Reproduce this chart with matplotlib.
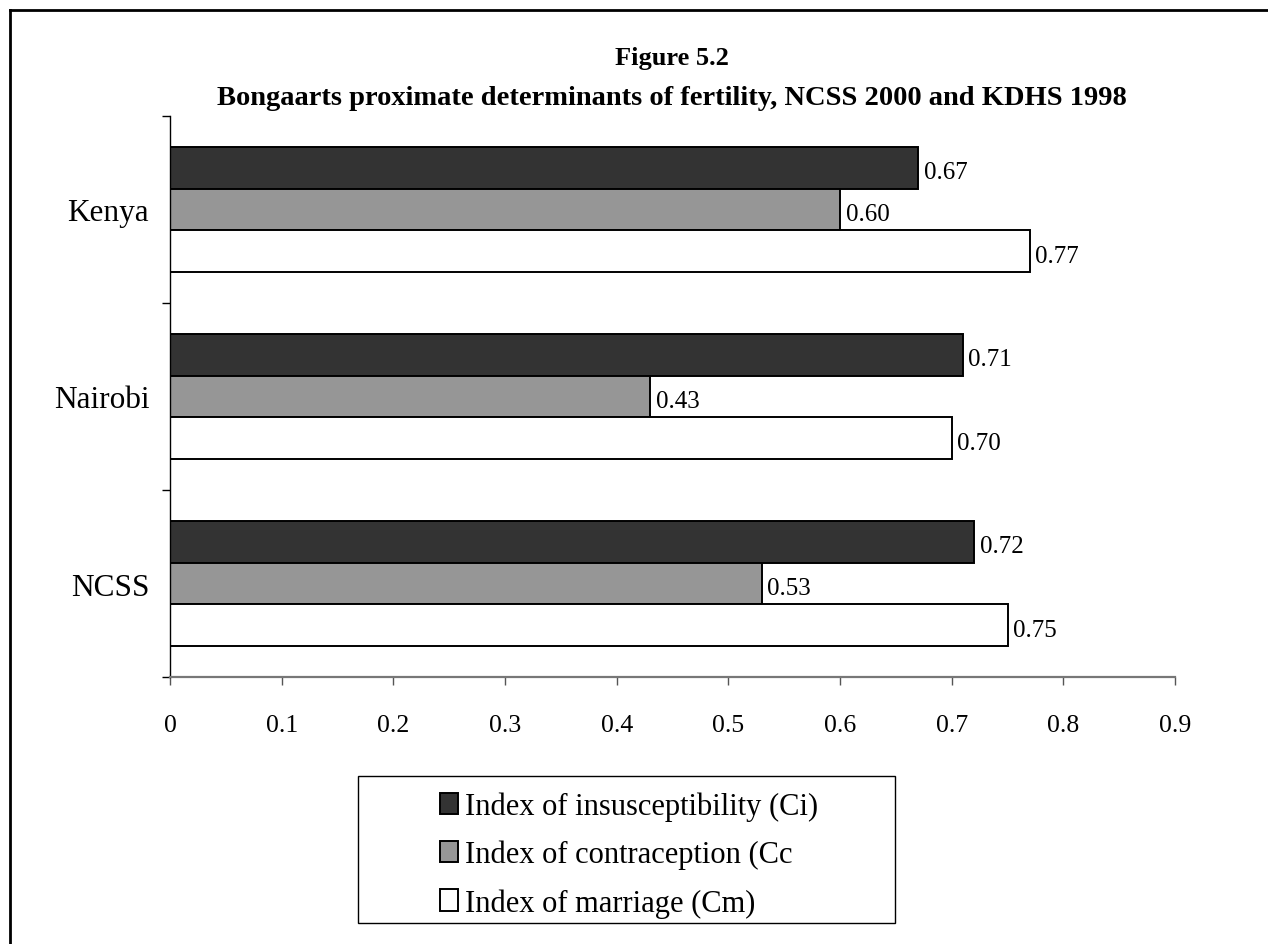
import matplotlib
matplotlib.use("Agg")
import matplotlib.pyplot as plt
from matplotlib.patches import Rectangle
from matplotlib.lines import Line2D
import numpy as np

plt.rcParams['font.family'] = ['Liberation Serif', 'DejaVu Serif']

regions = ["Kenya", "Nairobi", "NCSS"]
series_names = ["Index of insusceptibility (Ci)",
                "Index of contraception (Cc",
                "Index of marriage (Cm)"]
ci_values = [0.67, 0.71, 0.72]
cc_values = [0.60, 0.43, 0.53]
cm_values = [0.77, 0.70, 0.75]
x_ticks = [0, 0.1, 0.2, 0.3, 0.4, 0.5, 0.6, 0.7, 0.8, 0.9]
x_tick_labels = ["0", "0.1", "0.2", "0.3", "0.4", "0.5", "0.6", "0.7", "0.8", "0.9"]
title_lines = ["Figure 5.2",
               "Bongaarts proximate determinants of fertility, NCSS 2000 and KDHS 1998"]

colors = ["#333333", "#969696", "#ffffff"]

fig = plt.figure(figsize=(12.68, 9.45), dpi=100)
W, H = 1268, 945
ax = fig.add_axes([170 / W, 1 - 678 / H, (1175 - 170) / W, (678 - 117) / H])

n = len(regions)
centers = np.arange(n)[::-1] + 0.5
bar_h = 0.224
series = [ci_values, cc_values, cm_values]
for k, (vals, col) in enumerate(zip(series, colors)):
    y = centers + (1 - k) * bar_h
    ax.barh(y, vals, height=bar_h, color=col, edgecolor="black", linewidth=1.4)
    for yy, v in zip(y, vals):
        ax.text(v + 0.005, yy - 0.025, f"{v:.2f}", ha="left", va="center", fontsize=18)

ax.set_xlim(0, 0.9)
ax.set_ylim(0, n)
ax.set_xticks(x_ticks)
ax.set_xticklabels(x_tick_labels, fontsize=18.5)
ax.set_yticks(centers)
ax.set_yticklabels(regions, fontsize=22.5)
ax.set_yticks(np.arange(n + 1), minor=True)
ax.tick_params(axis="y", which="major", length=0, pad=15)
ax.tick_params(axis="y", which="minor", length=6, width=1, color="black", direction="out")
ax.tick_params(axis="x", which="major", length=6, width=1, color="#555555", direction="out", pad=21)
for s in ["top", "right"]:
    ax.spines[s].set_visible(False)
ax.spines["bottom"].set_color("#777777")
ax.spines["bottom"].set_linewidth(1.6)
ax.spines["left"].set_color("black")
ax.spines["left"].set_linewidth(1.0)

fig.text(672 / W, 1 - 65 / H, title_lines[0], ha="center", va="baseline",
         fontsize=19, fontweight="bold")
fig.text(672 / W, 1 - 105 / H, title_lines[1], ha="center", va="baseline",
         fontsize=20.5, fontweight="bold")

# Legend box with square swatches
fig.add_artist(Rectangle((358 / W, 1 - 924 / H), (895 - 358) / W, (924 - 777) / H,
                         transform=fig.transFigure, facecolor="white",
                         edgecolor="black", linewidth=1.0))
handles = [Rectangle((0, 0), 1, 1, facecolor=c, edgecolor="black", linewidth=1.4)
           for c in colors]
leg = fig.legend(handles, series_names, loc="upper left",
                 bbox_to_anchor=(419 / W, 1 - 771 / H), frameon=False,
                 fontsize=22, handlelength=0.59, handleheight=0.69,
                 handletextpad=0.23, labelspacing=0.62, borderpad=0.2)

# Outer frame
fig.add_artist(Line2D([10 / W, 1.0], [1 - 11 / H, 1 - 11 / H], transform=fig.transFigure,
                      color="black", linewidth=2.0))
fig.add_artist(Line2D([10 / W, 10 / W], [0, 1 - 11 / H], transform=fig.transFigure,
                      color="black", linewidth=2.0))

fig.savefig("out.png", dpi=100, facecolor="white")
